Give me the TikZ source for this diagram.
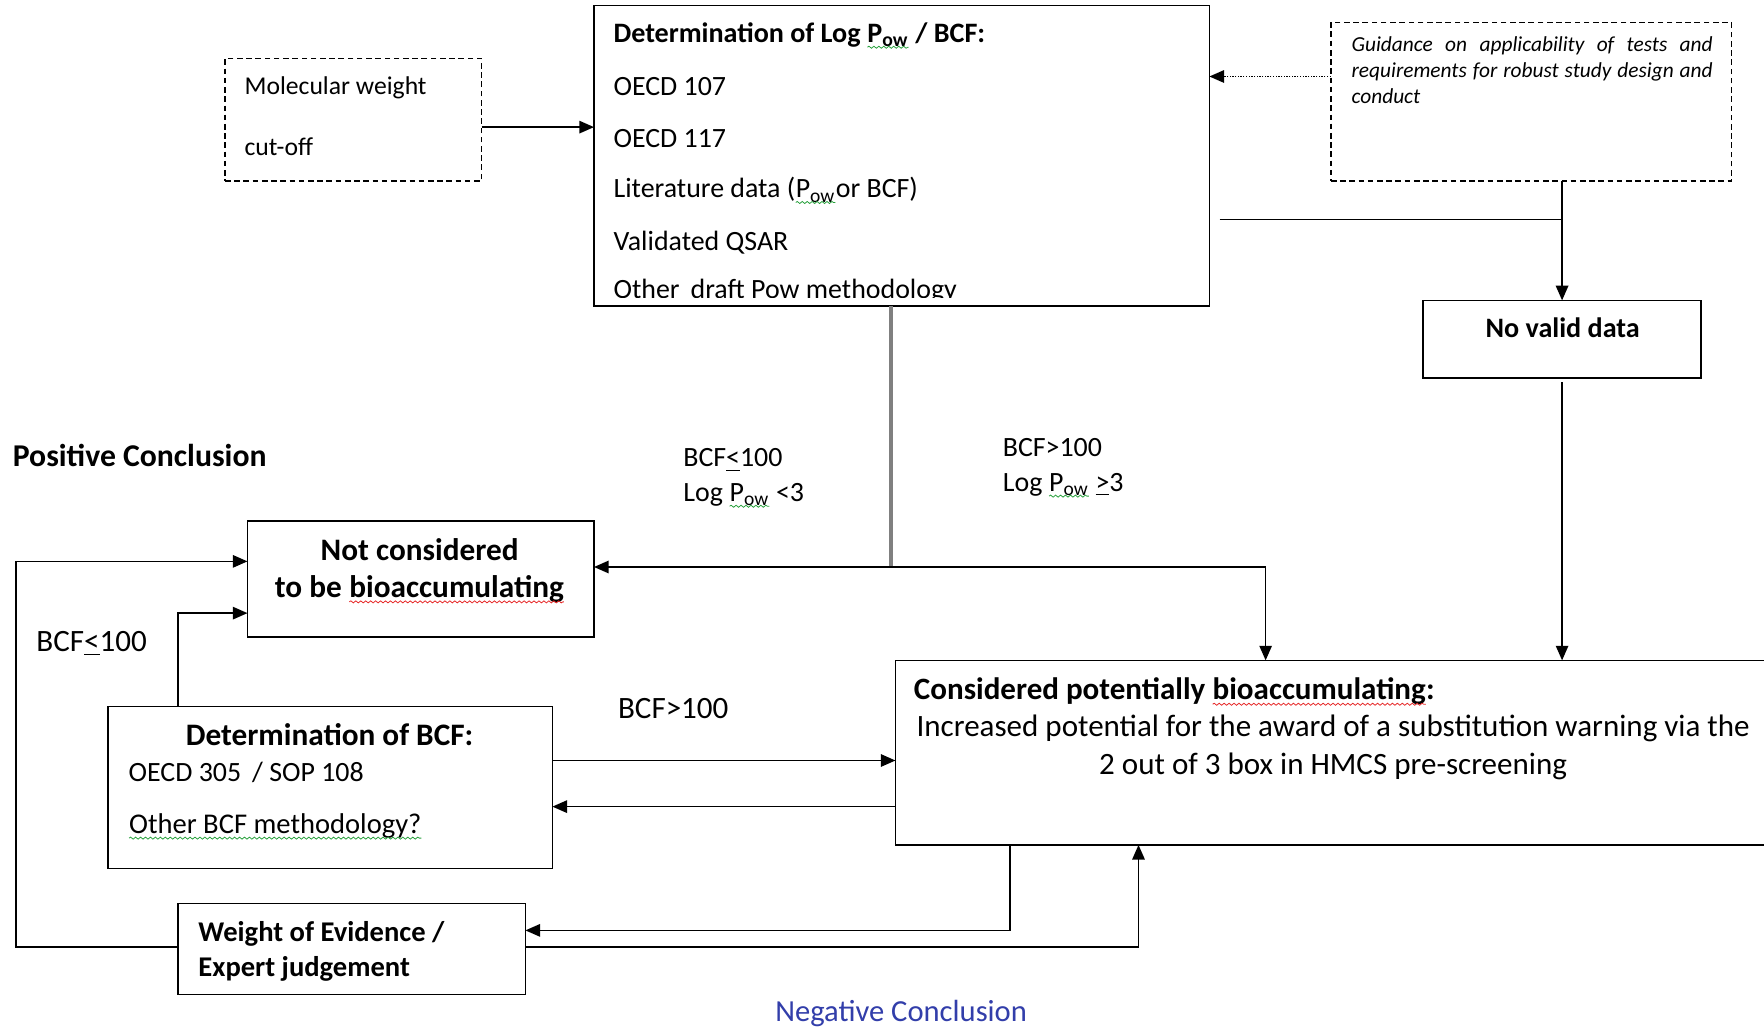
\documentclass[tikz,border=0pt]{standalone}
\usepackage{fontspec}
\setmainfont{Carlito}
\usetikzlibrary{arrows.meta,fit,decorations.pathmorphing}
\definecolor{negblue}{RGB}{50,62,170}
\definecolor{wavered}{RGB}{230,40,40}
\definecolor{wavegreen}{RGB}{40,160,60}
\newcommand\wavy[2]{\tikz[baseline=(wv.base)]{\node[inner sep=0pt,outer sep=0pt,anchor=base,draw=none,fill=none](wv){#2};\draw[#1,line width=0.35pt,decorate,decoration={snake,amplitude=0.45pt,segment length=2.2pt}] ([yshift=-2pt]wv.base west) -- ([yshift=-2pt]wv.base east);}}
\newcommand\Pow{\wavy{wavegreen}{P\textsubscript{ow}}}
\newcommand\ule{\underline{<}}
\newcommand\uge{\underline{>}}
\tikzset{
  box/.style={draw, line width=0.75pt, inner sep=0pt, outer sep=0pt},
  dbox/.style={box, dash pattern=on 2.5pt off 1.6pt},
  txt/.style={anchor=base west, inner sep=0pt, font=\fontsize{12.4}{14}\selectfont},
  ctxt/.style={anchor=base, inner sep=0pt, font=\fontsize{12.4}{14}\selectfont},
  btxt/.style={txt, font=\fontsize{12.5}{14}\selectfont\bfseries},
  bctxt/.style={ctxt, font=\fontsize{12.5}{14}\selectfont\bfseries},
  bigtxt/.style={txt, font=\fontsize{13.8}{15}\selectfont},
  bigctxt/.style={ctxt, font=\fontsize{13.8}{15}\selectfont},
  bigbtxt/.style={txt, font=\fontsize{13.8}{15}\selectfont\bfseries},
  bigbctxt/.style={ctxt, font=\fontsize{13.9}{15}\selectfont\bfseries},
  smalltxt/.style={txt, font=\fontsize{11.4}{13}\selectfont},
  guidetxt/.style={txt, font=\fontsize{9.5}{11}\selectfont\itshape},
  conn/.style={line width=0.75pt},
  tip/.style={-{Triangle[length=6.5pt,width=5.5pt]}},
  arr/.style={conn, tip},
}
\begin{document}
\begin{tikzpicture}[x=0.5pt,y=-0.5pt]
\useasboundingbox (0,0) rectangle (1568,914);

% boxes
\node[box, fit={(528,5) (1075,272)}] (top) {};
\node[dbox, fit={(200,52) (428,161)}] (mw) {};
\node[dbox, fit={(1183,20) (1539,161)}] (guide) {};
\node[box, fit={(1265,267) (1512,336)}] (nvd) {};
\node[box, fit={(220,463) (528,566)}] (notc) {};
\node[box, fit={(96,628) (491,772)}] (dbcf) {};
\node[box, fit={(796,587) (1590,751)}] (cons) {};
\node[box, fit={(158,803) (467,884)}] (woe) {};

% top box text
\node[btxt] (t1) at (545,38) {Determination of Log \Pow{} / BCF:};
\node[txt] (t2) at (545,85) {OECD 107};
\node[txt] (t3) at (545,131) {OECD 117};
\node[txt] (t4) at (545,176) {Literature data (\Pow{}or BCF)};
\node[txt] (t5) at (545,223) {Validated QSAR};
\begin{scope}
  \clip (528,5) rectangle (1075,264.6);
  \node[txt] (t6) at (545,265) {Other\, draft Pow methodology};
\end{scope}

% molecular weight
\node[smalltxt] (m1) at (217,84) {Molecular weight};
\node[smalltxt] (m2) at (217,138) {cut-off};

% guidance
\node[guidetxt] (g1) at (1201,46) {\makebox[160.5pt][s]{Guidance on applicability of tests and}};
\node[guidetxt] (g2) at (1201,69) {\makebox[160.5pt][s]{requirements for robust study design and}};
\node[guidetxt] (g3) at (1201,92) {conduct};

% no valid data
\node[bctxt] (n1) at (1389,300) {No valid data};

% labels
\node[txt, font=\fontsize{14.1}{16}\selectfont\bfseries] (pos) at (11,415) {Positive Conclusion};
\node[txt] (l1) at (607,415) {BCF\ule100};
\node[txt] (l2) at (607,446) {Log \Pow{} <3};
\node[txt] (l3) at (891,406) {BCF>100};
\node[txt] (l4) at (891,437) {Log \Pow{} \uge3};
\node[bigtxt] (l5) at (32,579) {BCF\ule100};
\node[bigtxt] (l6) at (549,639) {BCF>100};

% not considered
\node[bigbctxt] (nc1) at (373,498) {Not considered};
\node[bigbctxt] (nc2) at (373,531) {to be \wavy{wavered}{bioaccumulating}};

% determination of BCF
\node[bigbctxt] (d1) at (293,663) {Determination of BCF:};
\node[txt] (d2) at (114,695) {OECD 305\, / SOP 108};
\node[txt, font=\fontsize{12.7}{14}\selectfont] (d3) at (114,741) {\wavy{wavegreen}{Other BCF methodology?}};

% considered
\node[bigbtxt] (c1t) at (812,622) {Considered potentially \wavy{wavered}{bioaccumulating}:};
\node[bigctxt] (c2t) at (1185,655) {Increased potential for the award of a substitution warning via the};
\node[bigctxt] (c3t) at (1185,688) {2 out of 3 box in HMCS pre-screening};

% weight of evidence
\node[btxt, font=\fontsize{12.7}{14}\selectfont\bfseries] (w1) at (176,837) {Weight of Evidence /};
\node[btxt, font=\fontsize{12.7}{14}\selectfont\bfseries] (w2) at (176,868) {Expert judgement};

% negative conclusion
\node[ctxt, font=\fontsize{13.6}{15}\selectfont, text=negblue] (neg) at (801,908) {Negative Conclusion};

% helper coordinates
\coordinate (y113) at (0,113);
\coordinate (y68) at (0,68);
\coordinate (hl) at (1084,195);
\coordinate (j) at (792,504);
\coordinate (k) at (1125,504);
\coordinate (lx) at (14,842);
\coordinate (ly) at (14,499);
\coordinate (b1) at (158,545);
\coordinate (y676) at (0,676);
\coordinate (y717) at (0,717);
\coordinate (q1) at (898,827);
\coordinate (q2) at (1012,842);

% connectors
\draw[arr] (mw.east |- y113) -- (top.west |- y113);
\draw[conn, dash pattern=on 0.6pt off 0.6pt, tip] (guide.west |- y68) -- (top.east |- y68);
\draw[arr] (guide.south -| nvd.north) -- (nvd.north);
\draw[conn] (hl) -- (hl -| nvd.north);
\draw[arr] ([yshift=-2pt]nvd.south) -- (nvd.south |- cons.north);
\draw[line width=1.4pt, black!50] (j |- top.south) -- (j);
\draw[arr] (j) -- (notc.east |- j);
\draw[arr] (j) -- (k) -- (k |- cons.north);
\draw[arr] (woe.west |- lx) -- (lx) -- (ly) -- (notc.west |- ly);
\draw[arr] (dbcf.north -| b1) -- (b1) -- (notc.west |- b1);
\draw[arr] (dbcf.east |- y676) -- (cons.west |- y676);
\draw[arr] (cons.west |- y717) -- (dbcf.east |- y717);
\draw[arr] (cons.south -| q1) -- (q1) -- (woe.east |- q1);
\draw[arr] (woe.east |- q2) -- (q2) -- (cons.south -| q2);
\end{tikzpicture}
\end{document}
